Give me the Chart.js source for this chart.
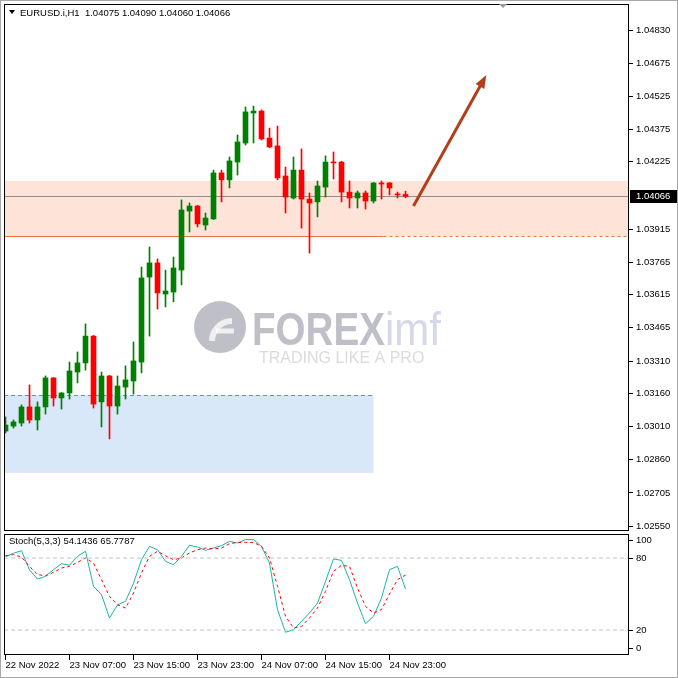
<!DOCTYPE html>
<html>
<head>
<meta charset="utf-8">
<script src="https://cdn.jsdelivr.net/npm/chart.js@4"></script>
<style>
  html, body { margin: 0; padding: 0; background: #fff; }
  #wrap { position: relative; width: 678px; height: 678px; overflow: hidden; }
  #main { position: absolute; left: 0; top: 0; }
  #stoch { position: absolute; left: 0; top: 531px; }
  #edge { position: absolute; left: 0; top: 0; width: 678px; height: 678px; box-sizing: border-box; border: 1px solid #a8a8a8; pointer-events: none; }
</style>
</head>
<body>
<div id="wrap">
  <canvas id="main" width="678" height="532"></canvas>
  <canvas id="stoch" width="678" height="147"></canvas>
  <div id="edge"></div>
</div>
<script>
// EURUSD H1 candles, 22 Nov 23:00 .. 25 Nov 01:00
const opens  = [1.02989,1.03012,1.03026,1.03100,1.03040,1.03100,1.03233,1.03141,1.03164,1.03260,
                1.03302,1.03425,1.03123,1.03242,1.03104,1.03191,1.03219,1.03306,1.03696,1.03761,
                1.03618,1.03627,1.03728,1.03999,1.04022,1.03935,1.03963,1.04174,1.04142,1.04224,
                1.04311,1.04449,1.04458,1.04334,1.04298,1.04160,1.04059,1.04187,1.04054,1.04041,
                1.04109,1.04224,1.04224,1.04086,1.04059,1.04082,1.04045,1.04128,1.04128,1.04077,1.04075];
const highs  = [1.03054,1.03040,1.03109,1.03201,1.03123,1.03242,1.03235,1.03166,1.03306,1.03352,
                1.03481,1.03428,1.03260,1.03245,1.03242,1.03288,1.03398,1.03742,1.03834,1.03779,
                1.03728,1.03788,1.04050,1.04036,1.04025,1.03990,1.04187,1.04187,1.04247,1.04348,
                1.04477,1.04481,1.04463,1.04380,1.04389,1.04201,1.04247,1.04284,1.04082,1.04137,
                1.04252,1.04270,1.04227,1.04137,1.04091,1.04091,1.04130,1.04137,1.04130,1.04086,1.04090];
const lows   = [1.02980,1.03003,1.03012,1.03026,1.02994,1.03067,1.03104,1.03090,1.03136,1.03210,
                1.03269,1.03095,1.03008,1.02953,1.03067,1.03136,1.03159,1.03256,1.03425,1.03549,
                1.03559,1.03582,1.03660,1.03903,1.03926,1.03912,1.03960,1.04041,1.04105,1.04164,
                1.04302,1.04311,1.04325,1.04290,1.04142,1.03990,1.04054,1.03921,1.03806,1.03972,
                1.04063,1.04146,1.04041,1.04013,1.04013,1.04008,1.04036,1.04054,1.04073,1.04059,1.04060];
const closes = [1.03017,1.03031,1.03100,1.03040,1.03100,1.03233,1.03141,1.03164,1.03265,1.03302,
                1.03425,1.03113,1.03242,1.03104,1.03196,1.03224,1.03311,1.03692,1.03761,1.03623,
                1.03632,1.03738,1.04004,1.04022,1.03940,1.03967,1.04174,1.04142,1.04229,1.04316,
                1.04454,1.04458,1.04330,1.04293,1.04151,1.04063,1.04187,1.04054,1.04036,1.04114,
                1.04224,1.04220,1.04086,1.04059,1.04082,1.04045,1.04128,1.04123,1.04105,1.04073,1.04066];

// Stochastic(5,3,3)
const stochK = [81,84,86,70,62.5,64.7,70.3,75.3,73.9,81.4,
                85.6,56.4,49.4,30,41,43.9,59,78.6,89.7,86.9,
                77.2,74.4,81.4,90.6,89.2,86.4,88.3,90.3,93.9,92.5,
                95.3,95.3,89.7,75.8,36.9,18.1,20.3,27.2,34.2,42.5,
                60.6,79.2,78,61.9,42.5,25.3,31.4,46.7,70.3,73,54.1436];
const stochD = [82,82.8,80.8,73,66.1,65.3,68,71.7,73,76.4,
                80,75.8,61.9,48,41,38.3,50.8,67.5,81.4,85.6,
                81.9,78.6,80,84.2,86.9,88.3,87.5,88.3,91.9,93,
                93,93,89.7,80,56.4,31.4,21.7,23,30,38.3,
                52.2,68.9,73.9,73,55,39.7,34.2,37,50,62,65.7787];
const stochLevels = [80, 20];

const priceTicks = [1.04830,1.04675,1.04525,1.04375,1.04225,1.03915,1.03765,1.03615,
                    1.03465,1.03310,1.03160,1.03010,1.02860,1.02705,1.02550];
const timeTickIdx = [0, 8, 16, 24, 32, 40, 48];
const timeLabels = ['22 Nov 2022','23 Nov 07:00','23 Nov 15:00','23 Nov 23:00','24 Nov 07:00','24 Nov 15:00','24 Nov 23:00'];
const stochTickAt = [95, 80, 20, 5];
const stochTickText = ['100', '80', '20', '0'];

// drawn objects (price / bar index units)
const supplyZone = [1.04137, 1.03884];
const supplyLineSolidTo = 47.25;
const demandZone = [1.03155, 1.02797];
const demandZoneTo = 46;
const arrowFrom = [51, 1.04022];
const arrowTo = [60.1, 1.04623];

(() => {
    const font = "'Liberation Sans', Arial, sans-serif";
    Chart.defaults.font.family = font;
    Chart.defaults.font.size = 9.5;
    Chart.defaults.color = '#000';

    const xMin = -0.1875, xMax = 77.9375;
    const yMax = 1.0494934, yMin = 1.02535;
    const idx = opens.map((o, i) => i);
    const candleColor = idx.map(i => closes[i] >= opens[i] ? '#008000' : '#ff0000');
    const last = closes[closes.length - 1];
    const noPad = s => { s.paddingTop = 0; s.paddingBottom = 0; s.paddingLeft = 0; s.paddingRight = 0; };

    const mainDecor = {
        id: 'mainDecor',
        beforeDatasetsDraw(chart) {
            const {ctx, chartArea: a, scales: {x, y}} = chart;
            ctx.save();
            // supply zone
            let t = y.getPixelForValue(supplyZone[0]), b = y.getPixelForValue(supplyZone[1]);
            ctx.fillStyle = '#fde3d8';
            ctx.fillRect(a.left, t, a.right - a.left, b - t);
            // demand zone
            const dEnd = x.getPixelForValue(demandZoneTo);
            t = y.getPixelForValue(demandZone[0]); b = y.getPixelForValue(demandZone[1]);
            ctx.fillStyle = '#d8e8f9';
            ctx.fillRect(a.left, t, dEnd - a.left, b - t);
            ctx.strokeStyle = '#6f8fbf';
            ctx.lineWidth = 1;
            ctx.setLineDash([4, 3]);
            ctx.beginPath();
            ctx.moveTo(a.left, Math.round(t) + 0.5);
            ctx.lineTo(dEnd, Math.round(t) + 0.5);
            ctx.stroke();

            // watermark
            ctx.setLineDash([]);
            const cx = a.left + 216, cy = a.top + 323;
            ctx.globalAlpha = 0.75;
            ctx.fillStyle = '#a9a9b5';
            ctx.beginPath();
            ctx.arc(cx, cy, 26, 0, Math.PI * 2);
            ctx.fill();
            ctx.strokeStyle = '#fff';
            ctx.lineWidth = 6;
            ctx.beginPath();
            ctx.arc(cx + 12, cy + 14, 20, Math.PI, Math.PI * 1.5);
            ctx.stroke();
            ctx.lineWidth = 5;
            ctx.beginPath();
            ctx.moveTo(cx - 4, cy + 4);
            ctx.lineTo(cx + 14, cy + 4);
            ctx.stroke();
            ctx.fillStyle = '#a9a9b5';
            ctx.font = "bold 46px " + font;
            ctx.textBaseline = 'alphabetic';
            ctx.fillText('FOREX', a.left + 248, a.top + 341, 133);
            ctx.fillStyle = '#c6cbe2';
            ctx.font = "46px " + font;
            ctx.fillText('imf', a.left + 381, a.top + 341, 56);
            ctx.fillStyle = '#cfcfd4';
            ctx.font = "16px " + font;
            ctx.fillText('TRADING LIKE A PRO', a.left + 255, a.top + 359, 182);
            ctx.globalAlpha = 1;

            // bid line
            const py = Math.round(y.getPixelForValue(last)) + 0.5;
            ctx.strokeStyle = '#8e8e8e';
            ctx.lineWidth = 1;
            ctx.beginPath();
            ctx.moveTo(a.left, py);
            ctx.lineTo(a.right, py);
            ctx.stroke();

            // supply zone bottom line
            const by = Math.round(y.getPixelForValue(supplyZone[1])) + 0.5;
            const sx = x.getPixelForValue(supplyLineSolidTo);
            ctx.strokeStyle = '#e8743f';
            ctx.beginPath();
            ctx.moveTo(a.left, by);
            ctx.lineTo(sx, by);
            ctx.stroke();
            ctx.setLineDash([3, 3]);
            ctx.beginPath();
            ctx.moveTo(sx, by);
            ctx.lineTo(a.right, by);
            ctx.stroke();
            ctx.restore();
        },
        afterDatasetsDraw(chart) {
            const {ctx, scales: {x, y}} = chart;
            const x1 = x.getPixelForValue(arrowFrom[0]), y1 = y.getPixelForValue(arrowFrom[1]);
            const x2 = x.getPixelForValue(arrowTo[0]), y2 = y.getPixelForValue(arrowTo[1]);
            const ang = Math.atan2(y2 - y1, x2 - x1);
            ctx.save();
            ctx.strokeStyle = '#b23f1c';
            ctx.fillStyle = '#b23f1c';
            ctx.lineWidth = 3;
            ctx.beginPath();
            ctx.moveTo(x1, y1);
            ctx.lineTo(x2 - 8 * Math.cos(ang), y2 - 8 * Math.sin(ang));
            ctx.stroke();
            ctx.beginPath();
            ctx.moveTo(x2, y2);
            ctx.lineTo(x2 - 13 * Math.cos(ang) + 5 * Math.sin(ang), y2 - 13 * Math.sin(ang) - 5 * Math.cos(ang));
            ctx.lineTo(x2 - 13 * Math.cos(ang) - 5 * Math.sin(ang), y2 - 13 * Math.sin(ang) + 5 * Math.cos(ang));
            ctx.closePath();
            ctx.fill();
            ctx.restore();
        },
        afterDraw(chart) {
            const {ctx, chartArea: a, scales: {y}} = chart;
            ctx.save();
            ctx.strokeStyle = '#000';
            ctx.lineWidth = 1;
            ctx.strokeRect(a.left + 0.5, a.top + 0.5, a.right - a.left - 1, a.bottom - a.top);
            // header
            ctx.fillStyle = '#000';
            ctx.beginPath();
            ctx.moveTo(a.left + 5, a.top + 6);
            ctx.lineTo(a.left + 11, a.top + 6);
            ctx.lineTo(a.left + 8, a.top + 10);
            ctx.closePath();
            ctx.fill();
            ctx.font = "9.5px " + font;
            ctx.textBaseline = 'middle';
            ctx.fillText('EURUSD.i,H1  ' + [opens, highs, lows, closes].map(s => s[s.length - 1].toFixed(5)).join(' '), a.left + 16, a.top + 9);
            // shift marker
            ctx.fillStyle = '#9a9a9a';
            ctx.beginPath();
            ctx.moveTo(a.left + 495, a.top);
            ctx.lineTo(a.left + 503, a.top);
            ctx.lineTo(a.left + 499, a.top + 4);
            ctx.closePath();
            ctx.fill();
            // price box
            const py = Math.round(y.getPixelForValue(last));
            ctx.fillStyle = '#000';
            ctx.fillRect(a.right + 1, py - 6, 48, 13);
            ctx.fillStyle = '#fff';
            ctx.fillText(last.toFixed(5), a.right + 7, py + 0.5);
            ctx.restore();
        }
    };

    new Chart(document.getElementById('main'), {
        type: 'bar',
        data: {
            datasets: [{
                label: 'wick',
                data: idx.map(i => ({x: i, y: [lows[i], highs[i]]})),
                backgroundColor: candleColor,
                barThickness: 1,
                grouped: false,
                order: 2
            }, {
                label: 'body',
                data: idx.map(i => ({x: i, y: [opens[i], closes[i]]})),
                backgroundColor: candleColor,
                barThickness: 5,
                minBarLength: 1,
                grouped: false,
                order: 1
            }]
        },
        options: {
            responsive: false,
            animation: false,
            layout: {padding: {left: 4, top: 4, right: 0, bottom: 2}},
            plugins: {legend: {display: false}, tooltip: {enabled: false}},
            scales: {
                x: {type: 'linear', min: xMin, max: xMax, offset: false, display: false},
                y: {
                    position: 'right', min: yMin, max: yMax,
                    afterFit: s => { s.width = 49; noPad(s); },
                    afterBuildTicks: s => { s.ticks = priceTicks.map(v => ({value: v})); },
                    ticks: {callback: v => v.toFixed(5), padding: 3},
                    grid: {drawOnChartArea: false, tickLength: 4, color: '#000'},
                    border: {display: false}
                }
            }
        },
        plugins: [mainDecor]
    });

    const stochDecor = {
        id: 'stochDecor',
        afterDraw(chart) {
            const {ctx, chartArea: a} = chart;
            ctx.save();
            ctx.strokeStyle = '#000';
            ctx.lineWidth = 1;
            ctx.strokeRect(a.left + 0.5, a.top + 0.5, a.right - a.left - 1, a.bottom - a.top - 1);
            ctx.fillStyle = '#000';
            ctx.font = "9.5px " + font;
            ctx.textBaseline = 'middle';
            ctx.fillText('Stoch(5,3,3) ' + stochK[stochK.length - 1].toFixed(4) + ' ' + stochD[stochD.length - 1].toFixed(4), a.left + 5, a.top + 7);
            ctx.restore();
        }
    };

    new Chart(document.getElementById('stoch'), {
        type: 'line',
        data: {
            datasets: [
                ...stochLevels.map(v => ({
                    data: [{x: xMin, y: v}, {x: xMax, y: v}],
                    borderColor: '#c4c4c4', borderWidth: 1, borderDash: [4, 3], pointRadius: 0
                })),
                {
                    data: idx.map(i => ({x: i, y: stochD[i]})),
                    borderColor: '#ff0000', borderWidth: 1, borderDash: [3, 3], pointRadius: 0, tension: 0
                },
                {
                    data: idx.map(i => ({x: i, y: stochK[i]})),
                    borderColor: '#20b2aa', borderWidth: 1, pointRadius: 0, tension: 0
                }
            ]
        },
        options: {
            responsive: false,
            animation: false,
            layout: {padding: {left: 4, top: 3, right: 0, bottom: 3}},
            plugins: {legend: {display: false}, tooltip: {enabled: false}},
            scales: {
                x: {
                    type: 'linear', min: xMin, max: xMax, offset: false,
                    afterFit: s => { s.height = 20; noPad(s); },
                    afterBuildTicks: s => { s.ticks = timeTickIdx.map(v => ({value: v})); },
                    ticks: {callback: (v, i) => timeLabels[i], align: 'start', autoSkip: false, maxRotation: 0, padding: 0},
                    grid: {drawOnChartArea: false, tickLength: 5, color: '#000'},
                    border: {display: false}
                },
                y: {
                    position: 'right', min: -0.83, max: 100,
                    afterFit: s => { s.width = 49; noPad(s); },
                    afterBuildTicks: s => { s.ticks = stochTickAt.map(v => ({value: v})); },
                    ticks: {callback: (v, i) => stochTickText[i], padding: 3},
                    grid: {drawOnChartArea: false, tickLength: 4, color: '#000'},
                    border: {display: false}
                }
            }
        },
        plugins: [stochDecor]
    });
})();
</script>
</body>
</html>
